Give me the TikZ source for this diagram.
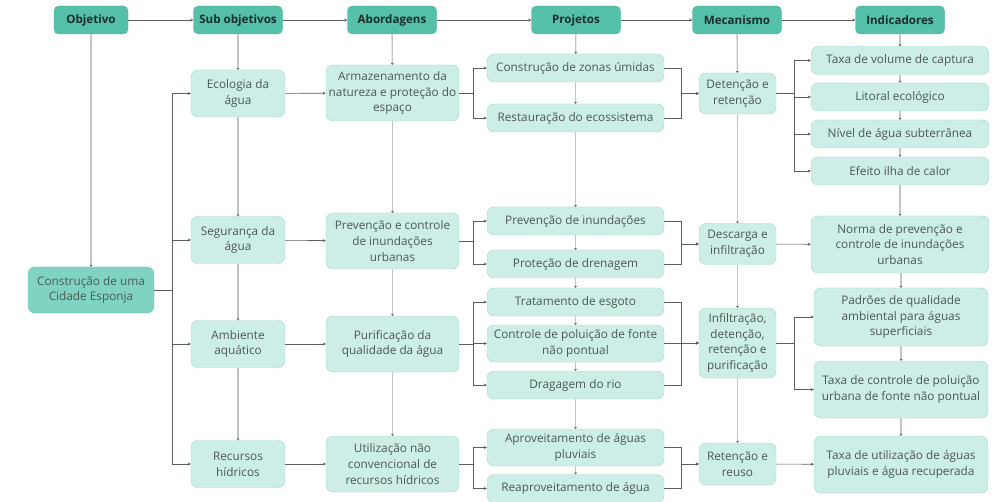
\documentclass[tikz,border=0pt]{standalone}
\usepackage{fontspec}
\setmainfont{Open Sans}
\usetikzlibrary{arrows.meta}

\definecolor{headfill}{HTML}{53C0A7}
\definecolor{headline}{HTML}{45AE96}
\definecolor{headtext}{HTML}{1C2E2A}
\definecolor{midfill}{HTML}{80D3C1}
\definecolor{midline}{HTML}{66C2AE}
\definecolor{boxfill}{HTML}{CDEEE6}
\definecolor{boxline}{HTML}{9FD9CA}
\definecolor{boxtext}{HTML}{4A5955}
\definecolor{spinegray}{HTML}{C4C4C4}
\definecolor{linkgray}{HTML}{5E5E5E}

\tikzset{
  head/.style={draw=headline, fill=headfill, rounded corners=5pt, minimum width=89pt, minimum height=28pt,
    inner sep=1pt, text=headtext, font=\bfseries\fontsize{11.6}{13}\selectfont},
  box/.style={draw=boxline, fill=boxfill, rounded corners=7pt, align=center, inner sep=1pt,
    text=boxtext, font=\fontsize{11.8}{15.8}\selectfont},
  sub/.style={box, minimum width=94pt, minimum height=47pt},
  abord/.style={box, minimum width=133pt, minimum height=56pt},
  proj/.style={box, minimum width=177pt, minimum height=28pt},
  mech/.style={box, minimum width=77pt, minimum height=41pt},
  ind/.style={box, minimum width=178pt, minimum height=28pt},
  spine/.style={draw=spinegray, line width=1.3pt, -{Stealth[length=2pt,width=3pt,color=linkgray]}},
  link/.style={draw=linkgray, line width=0.6pt, -{Stealth[length=3pt,width=3pt]}},
}

\begin{document}
\begin{tikzpicture}[x=1pt, y=-1pt]
  \useasboundingbox (0,0) rectangle (992,502);

  % cabecalho
  \node[head, minimum width=74pt] (h1) at (91,20) {Objetivo};
  \node[head] (h2) at (238,20) {Sub objetivos};
  \node[head] (h3) at (392,20) {Abordagens};
  \node[head] (h4) at (576,20) {Projetos};
  \node[head] (h5) at (737,20) {Mecanismo};
  \node[head] (h6) at (900,20) {Indicadores};

  \draw[link] (h1) -- (h2);
  \draw[link] (h2) -- (h3);
  \draw[link] (h3) -- (h4);
  \draw[link] (h4) -- (h5);
  \draw[link] (h5) -- (h6);

  % objetivo
  \node[box, draw=midline, fill=midfill, minimum width=126pt, minimum height=46pt] (cid) at (91,290)
    {Construção de uma\\Cidade Esponja};

  % sub objetivos
  \node[sub] (eco) at (238,93.5) {Ecologia da\\água};
  \node[sub] (seg) at (238,240) {Segurança da\\água};
  \node[sub] (amb) at (238,344) {Ambiente\\aquático};
  \node[sub] (rec) at (238,464) {Recursos\\hídricos};

  % abordagens
  \node[abord] (arm) at (392.5,93) {Armazenamento da\\natureza e proteção do\\espaço};
  \node[abord] (pci) at (392.5,241) {Prevenção e controle\\de inundações\\urbanas};
  \node[abord] (pur) at (392.5,344) {Purificação da\\qualidade da água};
  \node[abord] (unc) at (392.5,464) {Utilização não\\convencional de\\recursos hídricos};

  % projetos
  \node[proj] (zon) at (575.5,68) {Construção de zonas úmidas};
  \node[proj] (res) at (575.5,118) {Restauração do ecossistema};
  \node[proj] (pin) at (575.5,221) {Prevenção de inundações};
  \node[proj] (dre) at (575.5,264) {Proteção de drenagem};
  \node[proj] (esg) at (575.5,302) {Tratamento de esgoto};
  \node[proj, minimum height=37pt] (cpf) at (575.5,343.5) {Controle de poluição de fonte\\não pontual};
  \node[proj] (dra) at (575.5,385) {Dragagem do rio};
  \node[proj, minimum height=37pt] (apr) at (575.5,447.5) {Aproveitamento de águas\\pluviais};
  \node[proj] (rea) at (575.5,488.5) {Reaproveitamento de água};

  % mecanismo
  \node[mech] (det) at (737.5,93.5) {Detenção e\\retenção};
  \node[mech] (des) at (737.5,244) {Descarga e\\infiltração};
  \node[mech, minimum height=70pt] (inf) at (737.5,343) {Infiltração,\\detenção,\\retenção e\\purificação};
  \node[mech, minimum height=42pt] (reu) at (737.5,464) {Retenção e\\reuso};

  % indicadores
  \node[ind] (tvc) at (900,60.5) {Taxa de volume de captura};
  \node[ind] (lit) at (900,97) {Litoral ecológico};
  \node[ind] (nas) at (900,134) {Nível de água subterrânea};
  \node[ind] (eic) at (900,171) {Efeito ilha de calor};
  \node[ind, minimum height=57pt] (nor) at (900,244.5) {Norma de prevenção e\\controle de inundações\\urbanas};
  \node[ind, minimum width=174pt, minimum height=58pt] (pqa) at (901,317) {Padrões de qualidade\\ambiental para águas\\superficiais};
  \node[ind, minimum width=174pt, minimum height=57pt] (tcp) at (901,389.5) {Taxa de controle de poluição\\urbana de fonte não pontual};
  \node[ind, minimum width=174pt, minimum height=57pt] (tua) at (901,464.5) {Taxa de utilização de águas\\pluviais e água recuperada};

  % linhas verticais
  \draw[spine] (h1) -- (cid);
  \draw[spine] (h2) -- (eco);
  \draw[spine] (eco) -- (seg);
  \draw[spine] (seg) -- (amb);
  \draw[spine] (amb) -- (rec);
  \draw[spine] (h3) -- (arm);
  \draw[spine] (arm) -- (pci);
  \draw[spine] (pci) -- (pur);
  \draw[spine] (pur) -- (unc);
  \draw[spine] (h4) -- (zon);
  \draw[spine] (zon) -- (res);
  \draw[spine] (res) -- (pin);
  \draw[spine] (pin) -- (dre);
  \draw[spine] (dre) -- (esg);
  \draw[spine] (esg) -- (cpf);
  \draw[spine] (cpf) -- (dra);
  \draw[spine] (dra) -- (apr);
  \draw[spine] (apr) -- (rea);
  \draw[spine] (h5) -- (det);
  \draw[spine] (det) -- (des);
  \draw[spine] (des) -- (inf);
  \draw[spine] (inf) -- (reu);
  \draw[spine] (h6) -- (tvc);
  \draw[spine] (tvc) -- (lit);
  \draw[spine] (lit) -- (nas);
  \draw[spine] (nas) -- (eic);
  \draw[spine] (eic) -- (nor);
  \draw[spine] ([xshift=1pt]nor.south) -- (pqa);
  \draw[spine] (pqa) -- (tcp);
  \draw[spine] (tcp) -- (tua);

  % objetivo -> sub objetivos
  \foreach \s in {eco,seg,amb,rec}
    \draw[link] (cid.east) -- ++(18,0) |- (\s.west);

  % sub objetivos -> abordagens
  \draw[link] (eco) -- (arm);
  \draw[link] (seg) -- (pci);
  \draw[link] (amb) -- (pur);
  \draw[link] (rec) -- (unc);

  % abordagens -> projetos
  \foreach \p in {zon,res}
    \draw[link] (arm.east) -- ++(14,0) |- (\p.west);
  \foreach \p in {pin,dre}
    \draw[link] (pci.east) -- ++(14,0) |- (\p.west);
  \foreach \p in {esg,cpf,dra}
    \draw[link] (pur.east) -- ++(14,0) |- (\p.west);
  \foreach \p in {apr,rea}
    \draw[link] (unc.east) -- ++(14,0) |- (\p.west);

  % projetos -> mecanismo
  \foreach \p in {zon,res}
    \draw[link] (\p.east) -- ++(17,0) |- (det.west);
  \foreach \p in {pin,dre}
    \draw[link] (\p.east) -- ++(17,0) |- (des.west);
  \foreach \p in {esg,cpf,dra}
    \draw[link] (\p.east) -- ++(17,0) |- (inf.west);
  \foreach \p in {apr,rea}
    \draw[link] (\p.east) -- ++(17,0) |- (reu.west);

  % mecanismo -> indicadores
  \foreach \i in {tvc,lit,nas,eic}
    \draw[link] (det.east) -- ++(18,0) |- (\i.west);
  \draw[link] (des) -- (nor);
  \foreach \i in {pqa,tcp}
    \draw[link] (inf.east) -- ++(18,0) |- (\i.west);
  \draw[link] (reu) -- (tua);
\end{tikzpicture}
\end{document}
